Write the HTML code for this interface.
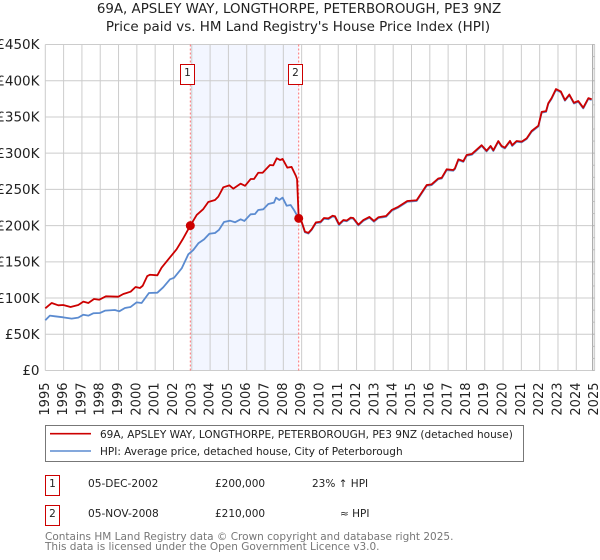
<!DOCTYPE html>
<html>
<head>
<meta charset="utf-8">
<title>69A, APSLEY WAY price chart</title>
<style>
html,body{margin:0;padding:0;background:#fff;}
#chart{display:block;width:600px;height:560px;font-family:"DejaVu Sans","Liberation Sans",sans-serif;}
text{fill:#222;}
</style>
</head>
<body>
<svg id="chart" xmlns="http://www.w3.org/2000/svg" width="600" height="560" viewBox="0 0 600 560">
  <text x="299" y="13" text-anchor="middle" font-size="13.4">69A, APSLEY WAY, LONGTHORPE, PETERBOROUGH, PE3 9NZ</text>
  <text x="298" y="31" text-anchor="middle" font-size="13.45">Price paid vs. HM Land Registry's House Price Index (HPI)</text>
  <g id="plot"></g>

  <rect x="45.5" y="425.5" width="478" height="36" fill="#fff" stroke="#777" stroke-width="1"/>
  <line x1="50" x2="91" y1="433.7" y2="433.7" stroke="#cc0000" stroke-width="1.6"/>
  <text x="100" y="438" font-size="10.5">69A, APSLEY WAY, LONGTHORPE, PETERBOROUGH, PE3 9NZ (detached house)</text>
  <line x1="50" x2="91" y1="451" y2="451" stroke="#5b8bd0" stroke-width="1.6"/>
  <text x="100" y="455" font-size="10.5">HPI: Average price, detached house, City of Peterborough</text>

  <rect x="45.5" y="475.5" width="14" height="20" fill="#fff" stroke="#cc0000" stroke-width="1"/>
  <text x="52.5" y="487" text-anchor="middle" font-size="10.5">1</text>
  <text x="88" y="487" font-size="10.6">05-DEC-2002</text>
  <text x="215" y="487" font-size="10.5">£200,000</text>
  <text x="312" y="487" font-size="10.5">23% ↑ HPI</text>

  <rect x="45.5" y="505.5" width="14" height="20" fill="#fff" stroke="#cc0000" stroke-width="1"/>
  <text x="52.5" y="517" text-anchor="middle" font-size="10.5">2</text>
  <text x="88" y="517" font-size="10.6">05-NOV-2008</text>
  <text x="215" y="517" font-size="10.5">£210,000</text>
  <text x="340" y="517" font-size="10.5">≈ HPI</text>

  <text x="45" y="540" font-size="10.5" style="fill:#777">Contains HM Land Registry data © Crown copyright and database right 2025.</text>
  <text x="45" y="550" font-size="10.5" style="fill:#777">This data is licensed under the Open Government Licence v3.0.</text>
</svg>
<script>
const yearTicks = [1995,1996,1997,1998,1999,2000,2001,2002,2003,2004,2005,2006,2007,2008,2009,2010,2011,2012,2013,2014,2015,2016,2017,2018,2019,2020,2021,2022,2023,2024,2025];
const priceTicks = [0,50,100,150,200,250,300,350,400,450];
const priceTickLabels = ["£0","£50K","£100K","£150K","£200K","£250K","£300K","£350K","£400K","£450K"];

const hpiDates = [1995.0,1995.25,1995.53,1995.98,1996.44,1996.8,1997.08,1997.35,1997.62,1997.99,1998.26,1998.8,1999.04,1999.35,1999.66,1999.99,2000.26,2000.66,2001.12,2001.44,2001.81,2002.03,2002.45,2002.81,2003.08,2003.36,2003.67,2003.96,2004.27,2004.48,2004.76,2005.09,2005.36,2005.67,2005.87,2006.21,2006.45,2006.63,2006.9,2007.18,2007.49,2007.6,2007.78,2007.96,2008.18,2008.4,2008.58,2008.84,2009.0,2009.18,2009.37,2009.55,2009.78,2010.04,2010.22,2010.46,2010.69,2010.82,2011.04,2011.28,2011.46,2011.68,2011.82,2012.1,2012.37,2012.7,2012.95,2013.19,2013.61,2013.92,2014.28,2014.77,2015.28,2015.83,2016.1,2016.46,2016.65,2016.92,2017.28,2017.37,2017.56,2017.83,2018.01,2018.29,2018.83,2019.1,2019.32,2019.47,2019.74,2019.92,2020.1,2020.38,2020.5,2020.74,2021.02,2021.29,2021.56,2021.93,2022.11,2022.35,2022.47,2022.65,2022.89,2023.16,2023.38,2023.62,2023.87,2024.11,2024.38,2024.66,2024.84];
const hpiValues = [69.3,75.7,74.8,73.4,71.6,73,77,75.7,79,79.4,82.6,83.5,81.7,86.3,87.7,94.1,93.2,107,107.4,114.8,125.9,128,141,160.4,166.3,175.6,181,188.8,189.8,194,205,206.8,204.6,208.7,206.4,215.6,216,221.6,222.5,229.8,231.7,238.6,235.4,238.6,227.5,228.5,221.6,210,204.5,190.8,189,194.2,203.5,204.4,209.5,208.8,212.6,212,200.8,206.7,206,210,209.5,200.3,206.6,211,205.4,210.5,212.3,220.6,225,233,234,255,256,264,265,276.6,275.8,278,290.5,288,296.5,297.8,310,302.4,309,303,315.8,309,306.6,316,310,315.8,315,319.5,329.6,337,356,357,368,375,387.5,384,372.4,380,368.6,371,361.8,375,373.4];

const paidDates = [1995.0,1995.35,1995.71,1995.98,1996.38,1996.8,1997.08,1997.35,1997.66,1997.95,1998.31,1998.99,1999.26,1999.66,1999.93,2000.17,2000.32,2000.57,2000.72,2001.12,2001.35,2001.81,2002.17,2002.5,2002.92,2003.27,2003.63,2003.9,2004.27,2004.45,2004.72,2005.05,2005.27,2005.67,2005.91,2006.22,2006.4,2006.63,2006.87,2007.27,2007.45,2007.64,2007.82,2007.96,2008.22,2008.45,2008.69,2008.75,2008.84,2009.0,2009.18,2009.37,2009.55,2009.78,2010.04,2010.22,2010.46,2010.69,2010.82,2011.04,2011.28,2011.46,2011.68,2011.82,2012.1,2012.37,2012.7,2012.95,2013.19,2013.61,2013.92,2014.28,2014.77,2015.28,2015.83,2016.1,2016.46,2016.65,2016.92,2017.28,2017.37,2017.56,2017.83,2018.01,2018.29,2018.83,2019.1,2019.32,2019.47,2019.74,2019.92,2020.1,2020.38,2020.5,2020.74,2021.02,2021.29,2021.56,2021.93,2022.11,2022.35,2022.47,2022.65,2022.89,2023.16,2023.38,2023.62,2023.87,2024.11,2024.38,2024.66,2024.84];
const paidValues = [85.8,93.2,90,90.4,87.7,90.4,95,93.2,98.7,97.7,102.4,101.9,105.6,108.8,115.3,113.9,117,130.4,132.2,131.4,142,156.2,167.3,181,200,214.7,222.9,232.6,235.4,240,252.9,255.6,251,257.9,255,264.4,264.4,273,273,283.7,283.2,292.9,290.6,292,280,281,268.5,264,210,205.4,191.6,190,195,204.5,205.4,210.5,210,213.7,213,202,207.8,207,211,210.5,201.3,207.7,212,206.4,211.5,213.3,221.6,226,234,235,256,257,265,266,277.7,276.8,279,291.5,289,297.5,298.8,311,303.4,310,304,316.8,310,307.6,317,311,316.8,316,320.5,330.6,338,357,358,369,376,388.5,385,373.4,381,369.6,372,362.8,376,374.4];

const saleDates = [2002.92,2008.84];
const saleValues = [200,210];
const saleLabels = ["1","2"];

const SVGNS = "http://www.w3.org/2000/svg";
const plot = document.getElementById("plot");
const xAxis = d => 45.3 + (d - 1995) * 18.31;
const yAxis = v => 370.5 - v * 0.7244;

function make(tag, attrs, parent) {
  const el = document.createElementNS(SVGNS, tag);
  for (const k in attrs) el.setAttribute(k, attrs[k]);
  (parent || plot).appendChild(el);
  return el;
}

const shade = make("rect", {x: xAxis(saleDates[0]), y: yAxis(450), width: xAxis(saleDates[1]) - xAxis(saleDates[0]), height: yAxis(0) - yAxis(450), fill: "#f3f6ff"});



yearTicks.forEach(y => {
  const g = make("line", {x1: xAxis(y), x2: xAxis(y), y1: yAxis(0), y2: yAxis(450), stroke: "#cccccc", "stroke-width": 1});
  
  
  const t = make("text", {x: 0, y: 0, "text-anchor": "end", "dominant-baseline": "central", "font-size": 13, transform: "translate(" + xAxis(y) + ",382.5) rotate(-90)"});
  t.textContent = y;
  
  
});

priceTicks.forEach((v, i) => {
  const g = make("line", {x1: 45.3, x2: 594.7, y1: yAxis(v), y2: yAxis(v), stroke: "#cccccc", "stroke-width": 1});
  
  
  const t = make("text", {x: 39.5, y: yAxis(v) + 4.7, "text-anchor": "end", "font-size": 13.5});
  t.textContent = priceTickLabels[i];
  
  
});

const endLine = make("line", {x1: 592.7, x2: 592.7, y1: yAxis(450), y2: yAxis(0), stroke: "#999999", "stroke-width": 1});


for (let i = 0; i <= 27; i++) {
  const yy = yAxis(0) - i * 326 / 27;
  const tick = make("line", {x1: 592.7, x2: 594.7, y1: yy, y2: yy, stroke: "#bbbbbb", "stroke-width": 1});
  
  
}

saleDates.forEach(d => {
  const l = make("line", {x1: xAxis(d), x2: xAxis(d), y1: yAxis(0), y2: yAxis(450), stroke: "#ff7070", "stroke-width": 1, "stroke-dasharray": "2 2"});
  
  
});

function pts(ds, vs) { return ds.map((d, i) => xAxis(d).toFixed(2) + "," + yAxis(vs[i]).toFixed(2)).join(" "); }

const hpiLine = make("polyline", {points: pts(hpiDates, hpiValues), fill: "none", stroke: "#5b8bd0", "stroke-width": 1.8, "stroke-linejoin": "round"});


const paidLine = make("polyline", {points: pts(paidDates, paidValues), fill: "none", stroke: "#cc0000", "stroke-width": 1.8, "stroke-linejoin": "round"});



saleDates.forEach((d, i) => {
  const c = make("circle", {cx: xAxis(d), cy: yAxis(saleValues[i]), r: 4.5, fill: "#cc0000"});
  
  
  const b = make("rect", {x: Math.round(xAxis(d) - 10.4) + 0.5, y: 64.5, width: 14, height: 20, fill: "#fff", stroke: "#cc0000", "stroke-width": 1});
  
  
  const t = make("text", {x: Math.round(xAxis(d) - 10.4) + 7.5, y: 76, "text-anchor": "middle", "font-size": 10.5});
  t.textContent = saleLabels[i];
  
  
});
</script>
</body>
</html>
